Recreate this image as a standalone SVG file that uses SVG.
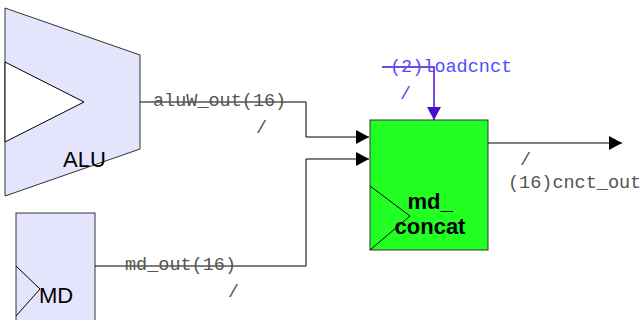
<svg xmlns="http://www.w3.org/2000/svg" width="641" height="320" viewBox="0 0 641 320">
<defs>
<marker id="ah" markerWidth="14" markerHeight="14" refX="13" refY="7" orient="auto" markerUnits="userSpaceOnUse"><path d="M0,0 L13,7 L0,14 Z" fill="#000"/></marker>
<marker id="ahb" markerWidth="14" markerHeight="14" refX="13" refY="7" orient="auto" markerUnits="userSpaceOnUse"><path d="M0,0 L13,7 L0,14 Z" fill="#4a0ccc"/></marker>
<style>
.blk{fill:#e4e4fc;stroke:#333;stroke-width:1}
.w{fill:none;stroke:#000;stroke-width:1}
.mono{font-family:"Liberation Mono","Courier New",monospace;font-size:18.5px;fill:#555}
.lbl{font-family:"Liberation Sans",Arial,sans-serif;font-size:22px;fill:#000}
</style>
</defs>
<g id="ALU">
<polygon class="blk" points="5,8 140,55 140,149 5,196"/>
<polygon points="5,62 84,102 5,142" fill="#fff" stroke="#000" stroke-width="1"/>
<text class="lbl" x="63" y="167">ALU</text>
</g>
<g id="MD">
<rect class="blk" x="16" y="213" width="79" height="112"/>
<polyline points="16,266 40,289 16,316" fill="none" stroke="#000"/>
<text class="lbl" x="39" y="303">MD</text>
</g>
<g id="md_concat">
<rect x="370" y="120" width="118" height="130" fill="#22ff22" stroke="#333"/>
<polyline points="370,186 410,216 370,250" fill="none" stroke="#000"/>
<text class="lbl" x="430" y="209" text-anchor="middle" font-weight="bold">md_</text>
<text class="lbl" x="430" y="234" text-anchor="middle" font-weight="bold" font-size="23">concat</text>
</g>
<g id="connectors">
<polyline class="w" points="140,102 306,102 306,137 369,137" marker-end="url(#ah)"/>
<polyline class="w" points="95,266 306,266 306,159 369,159" marker-end="url(#ah)"/>
<polyline class="w" points="488,143 622,143" marker-end="url(#ah)"/>
<polyline points="382,67 434,67 434,120" fill="none" stroke="#4a0ccc" stroke-width="1.5" marker-end="url(#ahb)"/>
<text class="mono" x="153" y="106">aluW_out(16)</text>
<text class="mono" x="256" y="133">/</text>
<text class="mono" x="125" y="270">md_out(16)</text>
<text class="mono" x="228" y="297">/</text>
<text class="mono" x="520" y="165">/</text>
<text class="mono" x="508" y="188">(16)cnct_out</text>
<text class="mono" x="390" y="72" style="fill:#5050ff">(2)loadcnct</text>
<text class="mono" x="400" y="99" style="fill:#5050ff">/</text>
</g>
</svg>
